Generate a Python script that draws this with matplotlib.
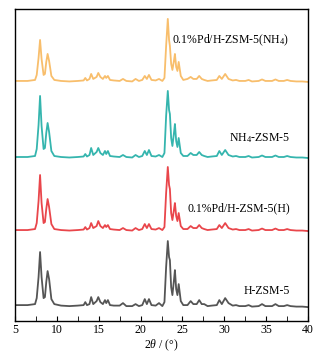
import matplotlib
matplotlib.use('Agg')
import matplotlib.pyplot as plt
from matplotlib.ticker import MultipleLocator

plt.rcParams['font.family'] = 'Liberation Serif'
plt.rcParams['mathtext.fontset'] = 'custom'
plt.rcParams['mathtext.rm'] = 'Liberation Serif'
plt.rcParams['mathtext.it'] = 'Liberation Serif:italic'

# 2theta positions (deg)
two_theta = [5.0, 6.5, 7.4, 7.6, 7.82, 8.0, 8.18, 8.42, 8.58, 8.74,
             8.9, 9.08, 9.35, 9.7, 10.5, 11.5, 12.5, 13.2, 13.4, 13.6,
             13.9, 14.1, 14.35, 14.75, 14.95, 15.2, 15.5, 15.75, 15.9, 16.1,
             16.35, 16.8, 17.5, 17.9, 18.3, 19.0, 19.4, 19.8, 20.2, 20.5,
             20.75, 21.0, 21.3, 21.8, 22.2, 22.6, 22.85, 23.05, 23.25, 23.4,
             23.5, 23.65, 23.8, 24.0, 24.1, 24.25, 24.4, 24.55, 24.8, 25.1,
             25.6, 25.98, 26.3, 26.7, 27.0, 27.3, 27.6, 28.0, 28.5, 29.1,
             29.4, 29.7, 30.1, 30.5, 31.0, 31.4, 31.8, 32.5, 32.9, 33.3,
             34.1, 34.5, 34.9, 35.7, 36.1, 36.5, 37.1, 37.5, 37.9, 38.6,
             39.3, 40.0]

# intensities (a.u., above each baseline)
h_zsm5 = [2, 2, 3, 9, 30, 55, 30, 9, 10, 25,
          36, 28, 8, 3, 1.5, 1, 1.5, 2, 5, 2,
          3, 10, 3, 6, 10, 5, 3, 7, 4, 7,
          2, 1.5, 1.5, 4, 1, 1, 3, 1, 2, 8,
          3, 8, 2, 1.5, 4, 1, 5, 40, 66, 50,
          47, 20, 12, 28, 37, 18, 12, 23, 6, 2,
          2, 6, 3, 3, 7, 3, 3, 1, 1.5, 2,
          7, 3, 9, 4, 1.5, 2, 1, 1, 2, 0.5,
          1, 3, 1, 1, 3, 1, 1, 2, 1, 0.5,
          0.5, 0]

pd_h = [1, 1, 2, 8, 30, 56, 28, 8, 9, 22,
        32, 24, 7, 2, 1, 0.5, 1, 1.5, 4, 1.5,
        3, 8, 3, 5, 10, 5, 3, 6, 4, 6,
        2, 1.5, 1, 3, 1, 0.5, 3, 1, 2, 7,
        3, 7, 2, 1.5, 3, 1, 4, 38, 64, 46,
        42, 18, 11, 22, 28, 15, 10, 18, 5, 2,
        2, 5, 3, 3, 6, 3, 2, 1, 1.5, 2,
        6, 3, 8, 3, 1.5, 2, 1, 1, 2, 0.5,
        1, 2.5, 1, 1, 2.5, 1, 1, 2, 1, 0.5,
        0.5, 0]

nh4_zsm5 = [1, 1, 2, 9, 33, 62, 32, 9, 10, 25,
            35, 26, 7, 2, 1, 0.5, 1, 1.5, 4, 1.5,
            3, 10, 3, 6, 10, 5, 3, 7, 4, 7,
            2, 1.5, 1, 3, 1, 0.5, 3, 1, 2, 7,
            3, 8, 2, 1.5, 3, 1, 5, 42, 67, 48,
            44, 20, 12, 26, 34, 17, 11, 20, 5, 2,
            2, 5, 3, 3, 6, 3, 2, 1, 1.5, 2,
            7, 3, 8, 3, 1.5, 2, 1, 1, 2, 0.5,
            1, 2.5, 1, 1, 2.5, 1, 1, 2, 1, 0.5,
            0.5, 0]

pd_nh4 = [1, 1, 2, 7, 24, 42, 23, 7, 8, 20,
          28, 21, 6, 2, 1, 0.5, 1, 1.5, 4, 1.5,
          3, 8, 3, 5, 9, 5, 3, 6, 4, 6,
          2, 1.5, 1, 3, 1, 0.5, 3, 1, 2, 6,
          3, 7, 2, 1.5, 3, 1, 4, 36, 63, 42,
          36, 18, 12, 22, 28, 15, 11, 20, 6, 2,
          3, 5, 3, 3, 6, 3, 2, 1, 1.5, 2,
          6, 3, 8, 3, 1.5, 2, 1, 1, 2, 0.5,
          1, 2.5, 1, 1, 2.5, 1, 1, 2, 1, 0.5,
          0.5, 0]

labels = ['H-ZSM-5', '0.1%Pd/H-ZSM-5(H)', r'NH$_4$-ZSM-5', r'0.1%Pd/H-ZSM-5(NH$_4$)']
series = [h_zsm5, pd_h, nh4_zsm5, pd_nh4]
colors = ['#555555', '#E9464B', '#35B5AE', '#F8BE6C']
offsets = [14, 90, 163, 239]
label_y = [30, 113, 183, 281]

fig = plt.figure(figsize=(3.32, 3.56), dpi=100)
ax = fig.add_axes([0.045, 0.098, 0.883, 0.877])

for ys, c, off, lab, ly in zip(series, colors, offsets, labels, label_y):
    ax.plot(two_theta, [v + off for v in ys], color=c, lw=1.3)
    ax.text(37.8, ly, lab, ha='right', va='center', fontsize=8.5)

ax.set_xlim(5, 40)
ax.set_ylim(0, 312)
ax.xaxis.set_major_locator(MultipleLocator(5))
ax.xaxis.set_minor_locator(MultipleLocator(2.5))
ax.tick_params(axis='x', which='both', direction='in', labelsize=8.5, pad=2)
ax.tick_params(axis='x', which='major', length=3.5)
ax.tick_params(axis='x', which='minor', length=3.5)
ax.set_yticks([])
for s in ax.spines.values():
    s.set_linewidth(1.0)
ax.set_xlabel(r'2$\it{\theta}$ / (°)', fontsize=8.5, labelpad=1)

fig.savefig('out.png', dpi=100)
